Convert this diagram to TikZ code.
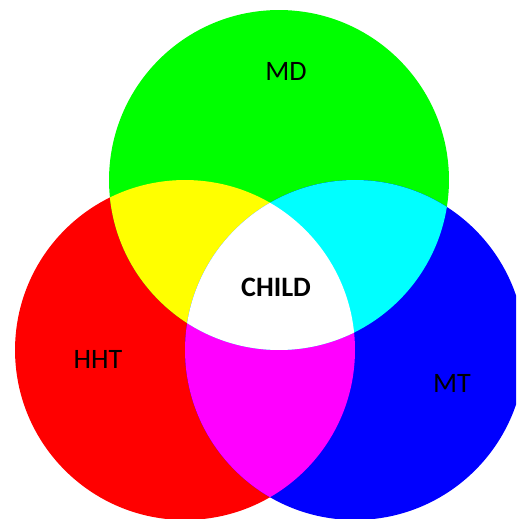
\documentclass[tikz,border=0pt]{standalone}
\usepackage{fontspec}
\setmainfont{Carlito}
\usetikzlibrary{positioning}
\definecolor{mdgreen}{RGB}{0,255,0}
\definecolor{hhtred}{RGB}{255,0,0}
\definecolor{mtblue}{RGB}{0,0,255}
\definecolor{mixyellow}{RGB}{255,255,0}
\definecolor{mixcyan}{RGB}{0,255,255}
\definecolor{mixmagenta}{RGB}{255,0,255}
\tikzset{
  setname/.style={font=\fontsize{16}{19}\selectfont, text=black, inner sep=0pt},
  ring/.style={radius=3.4cm}
}

\begin{document}
\begin{tikzpicture}[x=0.02cm, y=-0.02cm]
        \clip (0,0) rectangle (516,519);
        \fill[white] (0,0) rectangle (516,519);
        % circle centres
        \coordinate (mdc) at (279,180);
        \coordinate (hhtc) at (185,350);
        \coordinate (mtc) at (355,350);
        % the three circles
        \fill[hhtred] (hhtc) circle[ring];
        \fill[mdgreen] (mdc) circle[ring];
        \fill[mtblue] (mtc) circle[ring];
        % pairwise overlaps
        \begin{scope}
            \clip (hhtc) circle[ring];
            \fill[mixyellow] (mdc) circle[ring];
            \fill[mixmagenta] (mtc) circle[ring];
        \end{scope}
        \begin{scope}
            \clip (mdc) circle[ring];
            \fill[mixcyan] (mtc) circle[ring];
        \end{scope}
        % centre
        \begin{scope}
            \clip (hhtc) circle[ring];
            \clip (mdc) circle[ring];
            \fill[white] (mtc) circle[ring];
        \end{scope}
        % labels
        \node[setname] (md) at (286,71) {MD};
        \node[setname] (hht) at (98,359) {HHT};
        \node[setname] (mt) at (452,383) {MT};
        \node[setname, font=\fontsize{16}{19}\selectfont\bfseries] (child) at (276,287) {CHILD};
\end{tikzpicture}
\end{document}
